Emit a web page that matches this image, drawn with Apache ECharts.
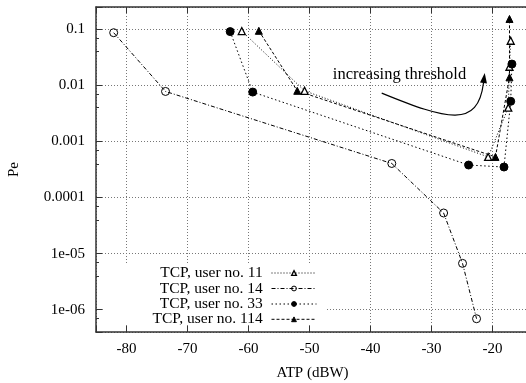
<!DOCTYPE html>
<html><head><meta charset="utf-8">
<script src="https://cdn.jsdelivr.net/npm/echarts@6/dist/echarts.min.js"></script>
<style>html,body{margin:0;padding:0;background:#fff}#c{width:526px;height:383px}</style>
</head><body><div id="c"></div>
<script>
const seriesNames = ['TCP, user no. 11', 'TCP, user no. 14', 'TCP, user no. 33', 'TCP, user no. 114'];
const atp11 = [-61.1, -50.8, -20.7, -17.4, -17.2, -17.0];
const pe11  = [0.093, 0.0080, 0.00053, 0.0040, 0.0215, 0.0625];
const atp14 = [-82.1, -73.6, -36.5, -28.0, -24.9, -22.6];
const pe14  = [0.087, 0.0078, 0.000405, 5.3e-5, 6.7e-6, 6.9e-7];
const atp33 = [-63.0, -59.3, -23.9, -18.1, -17.0, -16.8];
const pe33  = [0.091, 0.0076, 0.00038, 0.00035, 0.0052, 0.024];
const atp114 = [-58.3, -52.0, -19.5, -17.2, -17.2];
const pe114  = [0.094, 0.0080, 0.00053, 0.0139, 0.153];
const xTickValues = [-80, -70, -60, -50, -40, -30, -20];
const yTickValues = [1e-6, 1e-5, 1e-4, 1e-3, 1e-2, 1e-1];
const yTickLabels = ['1e-06', '1e-05', '0.0001', '0.001', '0.01', '0.1'];
const annotationText = 'increasing threshold';
// annotation arrow (data coords): start, control1, control2, end
const arrowX = [-38.15, -27.3, -22.4, -21.26];
const arrowY = [0.00729, 0.0024, 0.00173, 0.0166];
const textAnchor = [-46.16, 0.011];

const FONT = '"Liberation Serif", "DejaVu Serif", serif';
const pairs = (xs, ys) => xs.map((x, i) => [x, ys[i]]);
const dashes = [[1, 2], [4, 2, 1, 2], [1.5, 2.5], [3, 2]];
const symbols = ['triangle', 'circle', 'circle', 'triangle'];
const fills = ['#fff', 'rgba(0,0,0,0)', '#000', '#000'];
const borders = [1.3, 1, 1, 1];
const sizes = [7, 8, 8, 7];

const chart = echarts.init(document.getElementById('c'), null, {renderer: 'canvas'});

function yFmt(v) {
  for (let i = 0; i < yTickValues.length; i++) {
    if (Math.abs(Math.log10(v) - Math.log10(yTickValues[i])) < 1e-6) return yTickLabels[i];
  }
  return '';
}
function xFmt(v) {
  return (Math.abs(v - Math.round(v)) < 1e-6 && xTickValues.indexOf(Math.round(v)) >= 0) ? String(Math.round(v)) : '';
}

const gridLine = {show: true, lineStyle: {color: '#777', width: 1, type: [1, 2]}};
const axisLine = {show: true, lineStyle: {color: '#333', width: 1.5}};

const mk = (i, xs, ys) => ({
  name: seriesNames[i], type: 'line', data: pairs(xs, ys), symbol: symbols[i], symbolSize: sizes[i],
  showAllSymbol: true, z: 3,
  lineStyle: {color: '#000', width: 1, type: dashes[i]},
  itemStyle: {color: fills[i], borderColor: '#000', borderWidth: borders[i]},
  emphasis: {disabled: true}, animation: false
});

const rowTops = [265, 280.5, 296, 311.3];

chart.setOption({
  animation: false,
  backgroundColor: '#fff',
  grid: {left: 96, top: 7, width: 433, bottom: 51, containLabel: false, outerBoundsMode: 'none'},
  xAxis: [{
    type: 'value', min: -85, max: -14, splitNumber: 6,
    axisLine, splitLine: gridLine,
    axisTick: {show: true, inside: true, length: 6, lineStyle: {color: '#333'}},
    axisLabel: {formatter: xFmt, color: '#000', fontFamily: FONT, fontSize: 15, margin: 10},
    name: 'ATP (dBW)', nameLocation: 'middle', nameGap: 34,
    nameTextStyle: {color: '#000', fontFamily: FONT, fontSize: 15}
  }, {
    type: 'value', position: 'top', min: -85, max: -14, splitNumber: 6,
    axisLine, splitLine: {show: false},
    axisTick: {show: true, inside: true, length: 6, lineStyle: {color: '#333'}},
    axisLabel: {show: false}
  }],
  yAxis: {
    type: 'log', logBase: 10, min: 4e-7, max: 0.25,
    axisLine, splitLine: gridLine,
    axisTick: {show: true, inside: true, length: 6, lineStyle: {color: '#333'}},
    minorTick: {show: true, splitNumber: 3, length: 3, lineStyle: {color: '#333'}},
    axisLabel: {formatter: yFmt, color: '#000', fontFamily: FONT, fontSize: 15, margin: 11},
    name: 'Pe', nameLocation: 'middle', nameGap: 74, nameRotate: 90,
    nameTextStyle: {color: '#000', fontFamily: FONT, fontSize: 15}
  },
  legend: seriesNames.map((n, i) => ({
    data: [n], orient: 'vertical', right: 209, top: rowTops[i], align: 'right',
    itemWidth: 45, itemHeight: 6, padding: 0, itemGap: 0, selectedMode: false,
    formatter: name => name + ' ',
    lineStyle: {color: '#000', width: 1, type: dashes[i]},
    itemStyle: {color: fills[i], borderColor: '#000', borderWidth: borders[i]},
    textStyle: {color: '#000', fontFamily: FONT, fontSize: 15.5}
  })),
  series: [
    mk(0, atp11, pe11),
    mk(1, atp14, pe14),
    mk(2, atp33, pe33),
    mk(3, atp114, pe114)
  ]
});

const P = (x, y) => chart.convertToPixel({gridIndex: 0}, [x, y]);
const a0 = P(arrowX[0], arrowY[0]), a1 = P(arrowX[1], arrowY[1]), a2 = P(arrowX[2], arrowY[2]), a3 = P(arrowX[3], arrowY[3]);
const tp = P(textAnchor[0], textAnchor[1]);
const dx = a3[0] - a2[0], dy = a3[1] - a2[1], L = Math.hypot(dx, dy);
const ux = dx / L, uy = dy / L, hl = 10, hw = 3.5;
const bx = a3[0] - ux * hl, by = a3[1] - uy * hl;
const head = [[a3[0], a3[1]], [bx - uy * hw, by + ux * hw], [bx + uy * hw, by - ux * hw]];
const bl = P(-85, 4e-7);

chart.setOption({
  graphic: [
    {type: 'rect', z: 1, shape: {x: bl[0] + 7, y: 265, width: 325 - bl[0] - 7, height: bl[1] - 7 - 265}, style: {fill: '#fff'}},
    {type: 'bezierCurve', z: 5, shape: {x1: a0[0], y1: a0[1], cpx1: a1[0], cpy1: a1[1], cpx2: a2[0], cpy2: a2[1], x2: bx, y2: by},
      style: {stroke: '#000', lineWidth: 1.2, fill: null}},
    {type: 'polygon', z: 5, shape: {points: head}, style: {fill: '#000'}},
    {type: 'text', z: 5, x: tp[0], y: tp[1], style: {text: annotationText, fill: '#000', font: '16.5px ' + FONT, verticalAlign: 'bottom'}}
  ]
});
</script></body></html>
